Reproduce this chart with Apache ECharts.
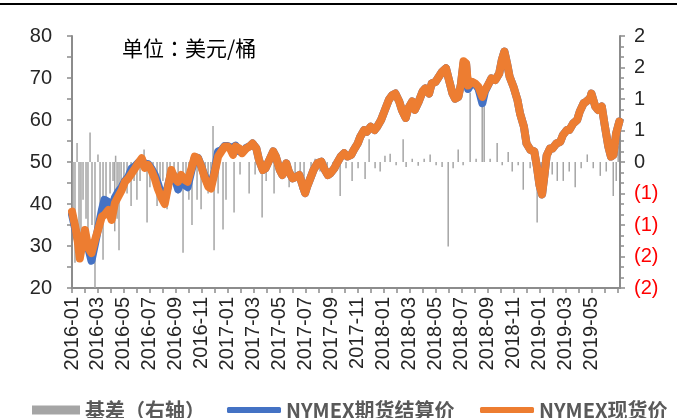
<!DOCTYPE html>
<html>
<head>
<meta charset="utf-8">
<script src="https://cdn.jsdelivr.net/npm/echarts@6/dist/echarts.min.js"></script>
<style>
  html, body { margin: 0; padding: 0; background: #fff; }
  #main { width: 677px; height: 418px; }
</style>
</head>
<body>
<div id="main"></div>
<script>
// time in months counted from the first trading day of 2016-01
const months = [
  0.0, 0.25, 0.45, 0.6, 0.8, 1.0, 1.26, 1.5, 1.77, 2.0,
  2.3, 2.5, 2.8, 3.05, 3.3, 3.57, 3.83, 4.08, 4.34, 4.6,
  4.85, 5.1, 5.37, 5.6, 5.86, 6.1, 6.37, 6.6, 6.9, 7.14,
  7.4, 7.65, 7.9, 8.17, 8.4, 8.7, 8.9, 9.2, 9.45, 9.7,
  9.96, 10.2, 10.5, 10.7, 11.0, 11.25, 11.5, 11.76, 12.0, 12.2,
  12.4, 12.6, 12.9, 13.1, 13.4, 13.7, 13.9, 14.2, 14.4, 14.7,
  14.9, 15.2, 15.5, 15.7, 16.0, 16.2, 16.5, 16.7, 17.0, 17.3,
  17.5, 17.75, 17.95, 18.1, 18.4, 18.6, 18.9, 19.2, 19.4, 19.7,
  19.9, 20.2, 20.4, 20.7, 20.95, 21.2, 21.5, 21.7, 22.0, 22.2,
  22.5, 22.7, 23.0, 23.3, 23.5, 23.8, 24.1, 24.4, 24.65, 24.9,
  25.2, 25.4, 25.7, 25.9, 26.2, 26.4, 26.7, 27.0, 27.2, 27.5,
  27.7, 28.0, 28.25, 28.5, 28.8, 29.0, 29.3, 29.5, 29.75, 29.95,
  30.15, 30.35, 30.5, 30.8, 31.05, 31.3, 31.6, 31.8, 32.1, 32.3,
  32.6, 32.9, 33.1, 33.3, 33.5, 33.7, 34.0, 34.3, 34.5, 34.8,
  35.0, 35.3, 35.6, 35.8, 36.0, 36.2, 36.4, 36.55, 36.8, 37.0,
  37.3, 37.6, 37.8, 38.1, 38.3, 38.6, 38.9, 39.1, 39.4, 39.6,
  39.9, 40.0, 40.3, 40.5, 40.8, 41.0, 41.3, 41.5, 41.7, 41.9,
  42.15
];

// NYMEX现货价
const spot = [
  38.2, 34.6, 31.0, 27.0, 30.5, 33.8, 29.5, 28.3, 31.4, 33.8,
  37.0, 37.4, 38.6, 36.2, 40.2, 41.8, 43.3, 45.3, 46.1, 47.3,
  48.5, 49.7, 50.9, 48.6, 49.3, 48.1, 46.1, 43.7, 41.4, 40.0,
  44.1, 48.1, 46.1, 45.3, 46.9, 45.7, 45.3, 48.5, 51.3, 50.9,
  48.9, 46.5, 44.1, 43.7, 47.7, 51.3, 52.5, 53.7, 53.7, 53.0,
  51.7, 53.7, 53.2, 52.1, 53.2, 53.8, 54.4, 53.2, 50.5, 48.1,
  48.5, 50.5, 52.5, 51.3, 48.1, 46.9, 49.7, 47.7, 46.1, 46.5,
  46.9, 44.5, 42.6, 44.1, 46.5, 48.1, 49.7, 50.1, 48.5, 46.9,
  47.3, 48.5, 49.7, 51.3, 52.1, 51.3, 51.7, 52.9, 54.4, 56.0,
  57.6, 57.2, 58.4, 57.6, 58.4, 60.0, 62.4, 64.8, 65.9, 66.3,
  64.4, 62.4, 60.5, 62.8, 64.4, 62.4, 64.4, 66.8, 67.5, 66.3,
  68.7, 69.1, 70.3, 71.5, 72.3, 69.9, 66.3, 65.1, 65.5, 68.5,
  74.0, 73.5, 68.2, 69.1, 68.7, 67.9, 65.5, 67.1, 68.7, 69.9,
  69.5, 71.1, 74.3, 76.3, 73.5, 70.3, 67.9, 64.8, 61.6, 58.4,
  54.4, 52.9, 52.5, 48.9, 44.5, 42.3, 47.3, 51.5, 53.2, 53.2,
  54.4, 54.8, 56.4, 57.6, 57.6, 59.2, 60.0, 62.0, 64.0, 64.4,
  65.2, 66.3, 63.2, 62.4, 63.2, 59.2, 53.7, 51.3, 51.7, 56.8,
  59.6
];

// NYMEX期货结算价
const futures = [
  37.5, 34.0, 31.5, 29.5, 31.0, 32.5, 29.5, 26.5, 30.5, 34.0,
  38.5, 41.0, 40.5, 38.5, 41.5, 43.0, 44.0, 45.5, 46.5, 48.5,
  49.0, 49.8, 50.5, 49.5, 49.5, 48.5, 47.0, 45.0, 42.0, 41.0,
  44.5, 47.5, 46.5, 43.5, 46.0, 44.5, 44.0, 48.0, 51.0, 51.0,
  49.0, 46.8, 44.5, 44.5, 48.0, 52.5, 52.8, 53.8, 53.8, 53.5,
  53.5, 53.9, 52.5, 52.3, 53.3, 53.8, 54.4, 53.2, 50.5, 48.1,
  48.5, 50.5, 52.5, 51.3, 48.1, 46.9, 49.7, 47.7, 46.1, 46.5,
  46.9, 44.5, 42.6, 44.1, 46.5, 48.1, 49.7, 50.1, 48.5, 46.9,
  47.3, 48.5, 49.7, 51.3, 52.1, 51.3, 51.7, 52.9, 54.4, 56.0,
  57.6, 57.2, 58.4, 57.6, 58.4, 60.0, 62.4, 64.8, 65.9, 66.3,
  64.4, 62.4, 60.5, 62.8, 64.4, 62.4, 64.4, 66.8, 67.5, 66.3,
  68.7, 69.1, 70.3, 71.5, 72.3, 69.9, 66.3, 65.1, 65.5, 68.5,
  73.5, 73.3, 67.4, 69.0, 68.5, 67.5, 64.0, 66.8, 68.7, 69.9,
  69.5, 71.1, 74.3, 76.3, 73.5, 70.3, 67.9, 64.8, 61.6, 58.4,
  54.4, 52.9, 52.5, 48.9, 44.5, 42.3, 47.3, 51.5, 53.2, 53.2,
  54.4, 54.8, 56.4, 57.6, 57.6, 59.2, 60.0, 62.0, 64.0, 64.4,
  65.2, 66.3, 63.2, 62.4, 63.2, 59.2, 53.7, 51.3, 51.7, 56.8,
  59.6
];

// 基差（右轴）spikes
const basisMonths = [
  0.08, 0.23, 0.39, 0.54, 0.69, 0.85, 1.08, 1.23, 1.39, 1.54,
  1.77, 2.0, 2.16, 2.39, 2.62, 2.93, 3.16, 3.29, 3.36, 3.47,
  3.62, 3.78, 4.0, 4.24, 4.55, 4.78, 5.0, 5.24, 5.55, 5.78,
  6.0, 6.24, 6.55, 6.78, 7.0, 7.32, 7.55, 7.86, 8.17, 8.55,
  8.78, 9.0, 9.24, 9.63, 9.94, 10.25, 10.48, 10.7, 10.86, 10.94,
  11.25, 11.63, 11.86, 12.48, 12.94, 13.64, 14.1, 14.64, 14.95, 15.56,
  16.02, 16.72, 17.18, 17.57, 17.87, 18.41, 18.72, 19.1, 19.65, 20.1,
  20.65, 21.1, 21.57, 22.03, 22.57, 22.88, 23.34, 23.73, 24.1, 24.5,
  24.96, 25.5, 25.73, 26.2, 26.66, 27.12, 27.58, 28.04, 28.5, 28.97,
  29.35, 29.74, 30.12, 30.66, 31.12, 31.59, 31.74, 32.2, 32.74, 33.13,
  33.59, 33.9, 34.36, 34.75, 35.28, 35.82, 36.13, 36.6, 36.98, 37.37,
  37.83, 38.29, 38.75, 39.21, 39.68, 40.14, 40.68, 41.14, 41.68, 41.91,
  42.06
];
const basis = [
  -1.0, -1.6, 0.3, -1.4, -1.2, -0.6, -0.9, -1.3, 0.47, -1.0,
  -2.0, 0.12, -0.8, -1.55, -0.6, -0.5, -0.3, -1.1, 0.1, -0.9,
  -1.4, -0.5, -0.3, -0.5, -0.7, -0.3, -0.6, -0.3, 0.2, -0.96,
  -0.4, -0.3, -0.7, -0.5, -0.3, -0.75, -0.3, -0.4, -0.5, -1.44,
  -0.4, -0.6, -1.0, -0.6, -0.75, -0.3, -0.5, -0.4, 0.57, -1.4,
  -0.5, -1.07, -0.6, -0.8, -0.2, -0.5, -0.2, -0.88, -0.3, -0.5,
  -0.2, -0.4, -0.2, -0.44, -0.35, -0.17, 0.05, -0.15, -0.1, -0.2,
  -0.54, -0.1, -0.3, -0.1, -0.27, 0.36, -0.1, -0.15, 0.1, 0.13,
  -0.05, 0.36, -0.08, 0.05, -0.06, 0.05, 0.12, -0.05, -0.08, -1.34,
  -0.1, 0.2, -0.05, 1.1, 0.05, 1.0, 1.06, 0.05, 0.3, -0.05,
  0.16, -0.15, -0.05, -0.44, -0.1, -0.96, -0.3, -0.3, -0.2, -0.3,
  -0.3, -0.15, -0.4, -0.1, 0.12, -0.1, -0.22, -0.15, -0.54, -0.3,
  0.25
];

// x tick labels, one every two months
const xLabels = [
  '2016-01', '2016-03', '2016-05', '2016-07', '2016-09', '2016-11',
  '2017-01', '2017-03', '2017-05', '2017-07', '2017-09', '2017-11',
  '2018-01', '2018-03', '2018-05', '2018-07', '2018-09', '2018-11',
  '2019-01', '2019-03', '2019-05'
];

const zip = (xs, ys) => xs.map((x, i) => [x, ys[i]]);

const axisColor = '#8c8c8c';
const labelFont = 'Liberation Sans, Noto Sans CJK SC, sans-serif';
const legendText = { fontSize: 20, color: '#595959', fontWeight: 'bold', fontFamily: 'Noto Sans CJK SC' };

let chart = echarts.init(document.getElementById('main'));

let option = {
  animation: false,
  grid: { left: 72, right: 57, top: 36, bottom: 130 },
  graphic: [
    { type: 'rect', left: 0, top: 3, shape: { width: 677, height: 2 }, style: { fill: '#000' } },
    {
      type: 'text', left: 122, top: 38,
      style: {
        text: '{a|单位}{c|：}{a|美元/桶}',
        rich: {
          a: { fontSize: 21, color: '#262626', fontFamily: 'Noto Sans CJK SC' },
          c: { fontSize: 21, color: '#262626', fontFamily: 'Noto Sans CJK TC' }
        }
      }
    }
  ],
  legend: [
    {
      left: 27, top: 395, itemWidth: 48, itemHeight: 9, icon: 'rect',
      data: ['基差（右轴）'],
      textStyle: legendText
    },
    {
      left: 222, top: 395, itemWidth: 54, itemHeight: 6, icon: 'roundRect',
      data: ['NYMEX期货结算价'],
      textStyle: legendText
    },
    {
      left: 475, top: 395, itemWidth: 54, itemHeight: 6, icon: 'roundRect',
      data: ['NYMEX现货价'],
      textStyle: legendText
    }
  ],
  xAxis: {
    type: 'value',
    min: 0,
    max: 42.2,
    interval: 1,
    splitLine: { show: false },
    axisLine: { onZero: false, lineStyle: { color: axisColor, width: 2 } },
    axisTick: { length: 5, lineStyle: { color: axisColor, width: 1.5 } },
    axisLabel: {
      rotate: 90,
      fontSize: 20,
      color: '#262626',
      fontFamily: labelFont,
      margin: 9,
      showMaxLabel: false,
      formatter: v => {
        const k = Math.round(v);
        if (Math.abs(v - k) > 0.01 || k % 2) return '';
        return xLabels[k / 2] || '';
      }
    }
  },
  yAxis: [
    {
      type: 'value',
      min: 20,
      max: 80,
      interval: 5,
      splitLine: { show: false },
      axisLine: { show: true, lineStyle: { color: axisColor, width: 2 } },
      axisTick: { show: true, length: 5, lineStyle: { color: axisColor, width: 1.5 } },
      axisLabel: {
        fontSize: 20,
        color: '#262626',
        fontFamily: labelFont,
        margin: 20,
        formatter: v => (v % 10 === 0 ? String(v) : '')
      }
    },
    {
      type: 'value',
      min: -2,
      max: 2,
      interval: 0.5,
      position: 'right',
      splitLine: { show: false },
      axisLine: { show: true, lineStyle: { color: axisColor, width: 2 } },
      axisTick: { show: true, length: 5, lineStyle: { color: axisColor, width: 1.5 } },
      minorTick: { show: true, splitNumber: 3, length: 4, lineStyle: { color: axisColor, width: 1.5 } },
      axisLabel: {
        fontSize: 20,
        fontFamily: labelFont,
        margin: 14,
        formatter: v => {
          const n = Math.round(Math.abs(v));
          return v < 0 ? '{neg|(' + n + ')}' : '{pos|' + n + '}';
        },
        rich: {
          pos: { fontSize: 20, color: '#262626', fontFamily: labelFont },
          neg: { fontSize: 20, color: '#ff0000', fontFamily: labelFont }
        }
      }
    }
  ],
  series: [
    {
      name: '基差（右轴）',
      type: 'bar',
      yAxisIndex: 1,
      barWidth: 1.5,
      itemStyle: { color: '#a5a5a5' },
      data: zip(basisMonths, basis)
    },
    {
      name: 'NYMEX期货结算价',
      type: 'line',
      showSymbol: false,
      symbol: 'none',
      lineStyle: { color: '#4472c4', width: 8, join: 'round', cap: 'round' },
      itemStyle: { color: '#4472c4' },
      data: zip(months, futures)
    },
    {
      name: 'NYMEX现货价',
      type: 'line',
      showSymbol: false,
      symbol: 'none',
      lineStyle: { color: '#ed7d31', width: 8, join: 'round', cap: 'round' },
      itemStyle: { color: '#ed7d31' },
      data: zip(months, spot)
    }
  ]
};

chart.setOption(option);
</script>
</body>
</html>
